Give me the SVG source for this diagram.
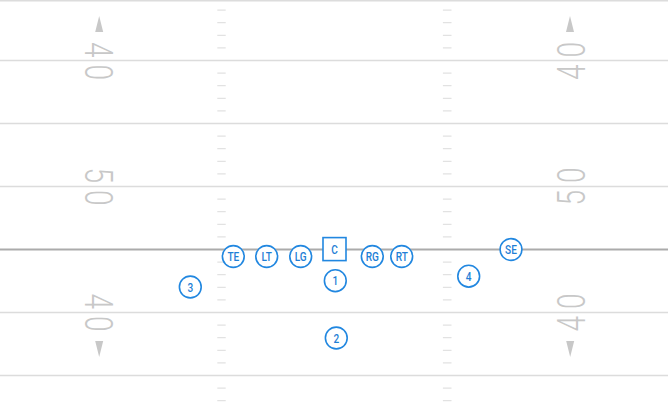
<svg xmlns="http://www.w3.org/2000/svg" width="668" height="413" viewBox="0 0 668 413">
<defs>
<style>
.yl{stroke:#dcdcdc;stroke-width:1.6;fill:none}
.los{stroke:#ababab;stroke-width:1.8;fill:none}
.hm{stroke:#e2e2e2;stroke-width:1.2;fill:none}
.num{font-family:Roboto,"Liberation Sans",sans-serif;font-weight:300;font-size:39px;fill:#c8c8c8;letter-spacing:9.4px}
.arw{fill:#c8c8c8}
.pl{fill:#fff;stroke:#2187e0;stroke-width:1.6}
.lb{font-family:Roboto,"Liberation Sans",sans-serif;font-weight:500;font-size:12.6px;fill:#1f7fd6;text-anchor:middle}
</style>
</defs>
<rect width="668" height="413" fill="#fff"/>
<g id="field">
<line class="yl" x1="0" y1="0.8" x2="668" y2="0.8"/>
<line class="yl" x1="0" y1="60.5" x2="668" y2="60.5"/>
<line class="yl" x1="0" y1="123.5" x2="668" y2="123.5"/>
<line class="yl" x1="0" y1="186.5" x2="668" y2="186.5"/>
<line class="yl" x1="0" y1="312.5" x2="668" y2="312.5"/>
<line class="yl" x1="0" y1="375.5" x2="668" y2="375.5"/>
<line class="los" x1="0" y1="249.5" x2="668" y2="249.5"/>
<path class="hm" d="M217.3 10.1h8.4M217.3 22.7h8.4M217.3 35.3h8.4M217.3 47.9h8.4M217.3 73.1h8.4M217.3 85.7h8.4M217.3 98.3h8.4M217.3 110.9h8.4M217.3 136.1h8.4M217.3 148.7h8.4M217.3 161.3h8.4M217.3 173.9h8.4M217.3 199.1h8.4M217.3 211.7h8.4M217.3 224.3h8.4M217.3 236.9h8.4M217.3 262.1h8.4M217.3 274.7h8.4M217.3 287.3h8.4M217.3 299.9h8.4M217.3 325.1h8.4M217.3 337.7h8.4M217.3 350.3h8.4M217.3 362.9h8.4M217.3 388.1h8.4M217.3 400.7h8.4"/>
<path class="hm" d="M442.9 10.1h8.6M442.9 22.7h8.6M442.9 35.3h8.6M442.9 47.9h8.6M442.9 73.1h8.6M442.9 85.7h8.6M442.9 98.3h8.6M442.9 110.9h8.6M442.9 136.1h8.6M442.9 148.7h8.6M442.9 161.3h8.6M442.9 173.9h8.6M442.9 199.1h8.6M442.9 211.7h8.6M442.9 224.3h8.6M442.9 236.9h8.6M442.9 262.1h8.6M442.9 274.7h8.6M442.9 287.3h8.6M442.9 299.9h8.6M442.9 325.1h8.6M442.9 337.7h8.6M442.9 350.3h8.6M442.9 362.9h8.6M442.9 388.1h8.6M442.9 400.7h8.6"/>
<polygon class="arw" points="99.2,16 103.2,32 95.2,32"/>
<polygon class="arw" points="570,16 574,32 566,32"/>
<polygon class="arw" points="95.2,341 103.2,341 99.2,357"/>
<polygon class="arw" points="566.2,341 574.2,341 570.2,357"/>
<g transform="translate(85,61) rotate(90) scale(0.72,1)"><text class="num" x="4.7" y="0" text-anchor="middle">40</text></g>
<g transform="translate(585,61) rotate(-90) scale(0.72,1)"><text class="num" x="4.7" y="0" text-anchor="middle">40</text></g>
<g transform="translate(85,186.5) rotate(90) scale(0.72,1)"><text class="num" x="4.7" y="0" text-anchor="middle">50</text></g>
<g transform="translate(585,186.5) rotate(-90) scale(0.72,1)"><text class="num" x="4.7" y="0" text-anchor="middle">50</text></g>
<g transform="translate(85,312.5) rotate(90) scale(0.72,1)"><text class="num" x="4.7" y="0" text-anchor="middle">40</text></g>
<g transform="translate(585,312.5) rotate(-90) scale(0.72,1)"><text class="num" x="4.7" y="0" text-anchor="middle">40</text></g>
</g>
<g id="connectors"/>
<g id="TE"><circle class="pl" cx="233.3" cy="256.5" r="10.9"/><text class="lb" transform="translate(233.3,261) scale(0.8,1)">TE</text></g>
<g id="LT"><circle class="pl" cx="266.7" cy="256.5" r="10.9"/><text class="lb" transform="translate(266.7,261) scale(0.8,1)">LT</text></g>
<g id="LG"><circle class="pl" cx="300.7" cy="256.5" r="10.9"/><text class="lb" transform="translate(300.7,261) scale(0.8,1)">LG</text></g>
<g id="C"><rect class="pl" x="323" y="237.6" width="23" height="23"/><text class="lb" transform="translate(334.5,253.6) scale(0.8,1)">C</text></g>
<g id="RG"><circle class="pl" cx="372.3" cy="256.5" r="10.9"/><text class="lb" transform="translate(372.3,261) scale(0.8,1)">RG</text></g>
<g id="RT"><circle class="pl" cx="401.7" cy="256.5" r="10.9"/><text class="lb" transform="translate(401.7,261) scale(0.8,1)">RT</text></g>
<g id="SE"><circle class="pl" cx="511" cy="249.5" r="10.9"/><text class="lb" transform="translate(511,254) scale(0.8,1)">SE</text></g>
<g id="p1"><circle class="pl" cx="335.3" cy="280.7" r="10.9"/><text class="lb" transform="translate(335.3,285.2) scale(0.8,1)">1</text></g>
<g id="p2"><circle class="pl" cx="336.3" cy="338" r="10.9"/><text class="lb" transform="translate(336.3,342.5) scale(0.8,1)">2</text></g>
<g id="p3"><circle class="pl" cx="190.3" cy="287" r="10.9"/><text class="lb" transform="translate(190.3,291.5) scale(0.8,1)">3</text></g>
<g id="p4"><circle class="pl" cx="468.7" cy="276.2" r="10.9"/><text class="lb" transform="translate(468.7,280.7) scale(0.8,1)">4</text></g>
</svg>
